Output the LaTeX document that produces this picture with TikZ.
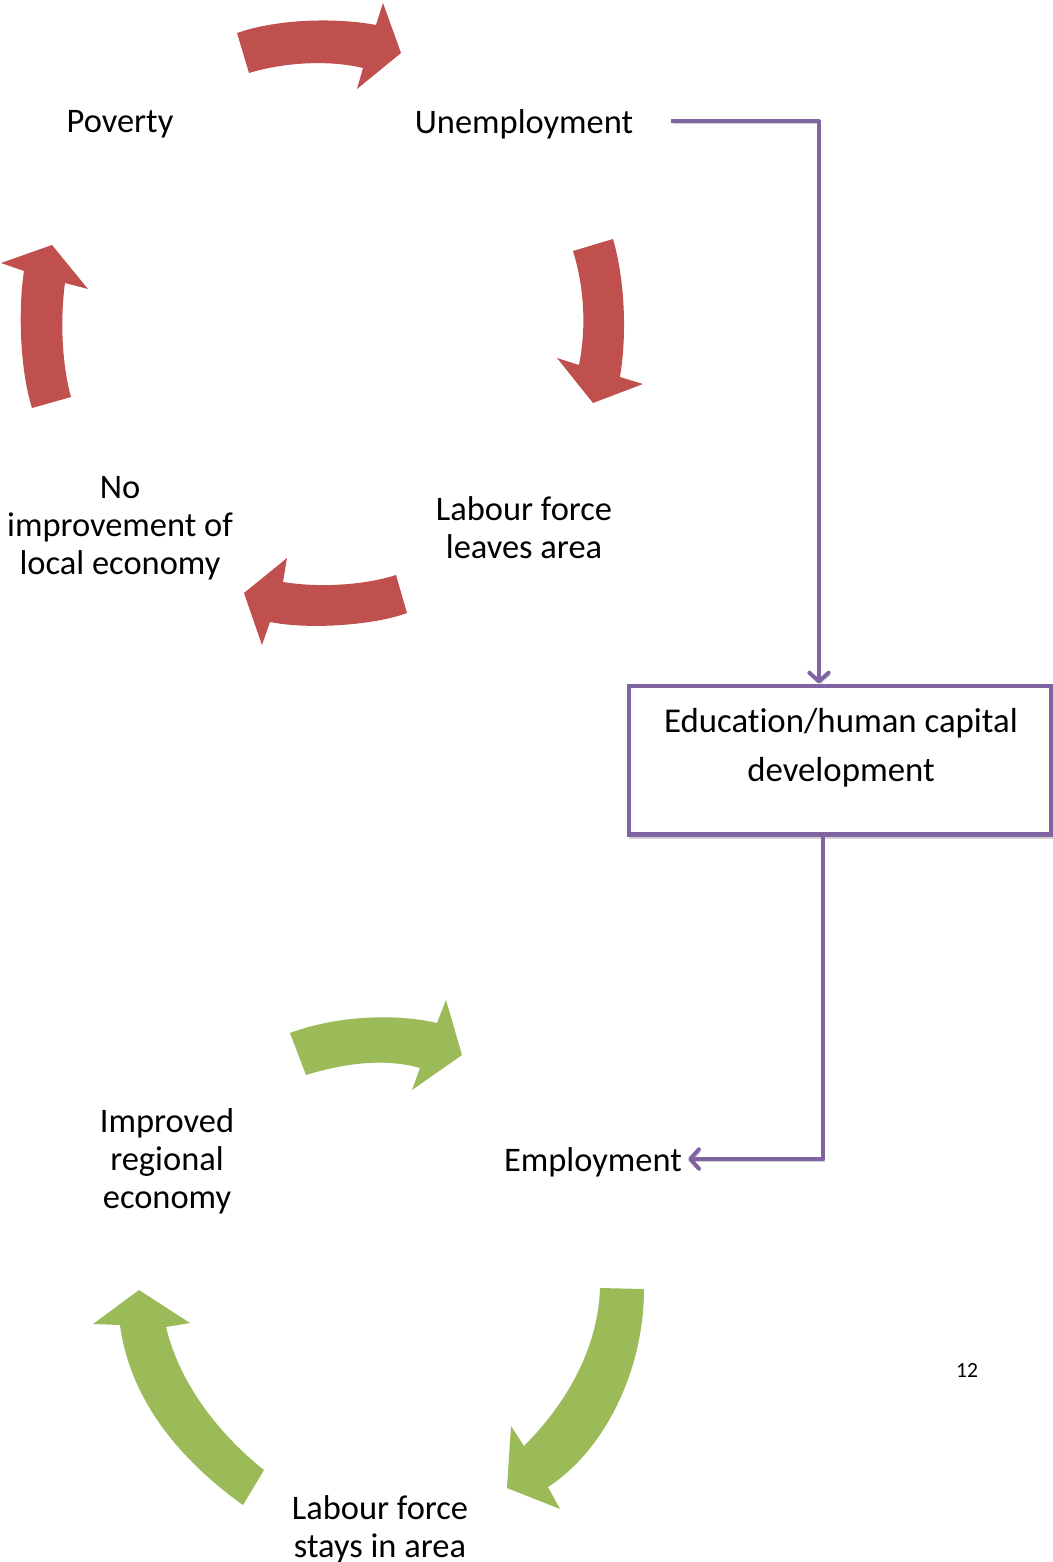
\documentclass[tikz,border=0pt]{standalone}
\usepackage{fontspec}
\setmainfont{Carlito}[Ligatures=NoCommon]
\usetikzlibrary{arrows.meta,positioning}
\definecolor{CycleRed}{RGB}{192,80,77}
\definecolor{CycleGreen}{RGB}{155,187,89}
\definecolor{LinkPurple}{RGB}{128,100,162}
\tikzset{
  phrase/.style={align=center, font=\fontsize{19.6}{21.6}\selectfont},
  bend/.style={fill=#1, draw=none},
  link/.style={draw=LinkPurple, line width=2.3pt, line join=round,
    -{Straight Barb[length=5pt,width=11pt,line cap=round,line join=round]},
    preaction={draw=black!18, transform canvas={shift={(0.9pt,-1.3pt)}}}},
  ebox/.style={draw=LinkPurple, line width=2.3pt, fill=white,
    minimum width=8.44cm, minimum height=2.98cm,
    preaction={draw=black!18, transform canvas={shift={(0.9pt,-1.3pt)}}}}
}

\begin{document}
\begin{tikzpicture}[x=0.02cm, y=-0.02cm]
  \useasboundingbox (0,0) rectangle (1053,1562);

  % Vicious circle
  \node[phrase] (pov)   at (120,124)  {Poverty};
  \node[phrase] (unemp) at (524,124)  {Unemployment};
  \node[phrase] (leave) at (524,528)  {Labour force\\leaves area};
  \node[phrase] (noimp) at (120,528)  {No\\improvement of\\local economy};

  \fill[bend=CycleRed] (237,33) .. controls (280,18) and (340,18) .. (376,25)
    -- (383,3) -- (401,53) -- (357,89) -- (363,68)
    .. controls (330,60) and (285,62) .. (249,73) -- cycle;
  \fill[bend=CycleRed] (573,251) -- (613,239)
    .. controls (625,280) and (627,335) .. (620,377)
    -- (643,384) -- (593,403) -- (557,358) -- (579,365)
    .. controls (586,330) and (585,290) .. (573,251) -- cycle;
  \fill[bend=CycleRed] (396,575) -- (407,613)
    .. controls (375,625) and (310,630) .. (270,622)
    -- (262,645) -- (244,593) -- (287,558) -- (283,582)
    .. controls (320,588) and (365,585) .. (396,575) -- cycle;
  \fill[bend=CycleRed] (32,408) .. controls (20,370) and (18,310) .. (24,271)
    -- (1,263) -- (52,245) -- (88,289) -- (65,283)
    .. controls (60,320) and (62,365) .. (71,397) -- cycle;

  % Virtuous circle
  \node[phrase] (emp)   at (593,1162) {Employment};
  \node[phrase] (stay)  at (380,1529) {Labour force\\stays in area};
  \node[phrase] (impr)  at (167,1161) {Improved\\regional\\economy};

  \fill[bend=CycleGreen] (290,1033) .. controls (335,1016) and (395,1013) .. (437,1023)
    -- (446,1000) -- (462,1055) -- (412,1090) -- (420,1068)
    .. controls (385,1058) and (345,1063) .. (306,1075) -- cycle;
  \fill[bend=CycleGreen] (600,1288) -- (644,1289)
    .. controls (644,1370) and (605,1450) .. (548,1487)
    -- (560,1509) -- (507,1488) -- (511,1426) -- (524,1446)
    .. controls (565,1405) and (598,1350) .. (600,1288) -- cycle;
  \fill[bend=CycleGreen] (243,1505) -- (264,1470)
    .. controls (220,1435) and (180,1385) .. (166,1327)
    -- (190,1323) -- (139,1290) -- (93,1324) -- (120,1325)
    .. controls (130,1400) and (180,1460) .. (243,1505) -- cycle;

  % Way out
  \node[ebox] (box) at (840,760) {};
  \node[align=center, font=\fontsize{19.8}{27.8}\selectfont] (boxtxt) at (841,748)
    {Education/human capital\\development};
  \coordinate (down) at (819,121);
  \coordinate (back) at (823,1159);

  \draw[link, shorten <=0.64cm] (unemp.east |- down) -- (down) -- (down |- box.north);
  \draw[link] (box.south -| back) -- (back) -- (emp.east |- back);

  \node[font=\fontsize{12.3}{14}\selectfont] (page) at (967,1370) {12};
\end{tikzpicture}
\end{document}
